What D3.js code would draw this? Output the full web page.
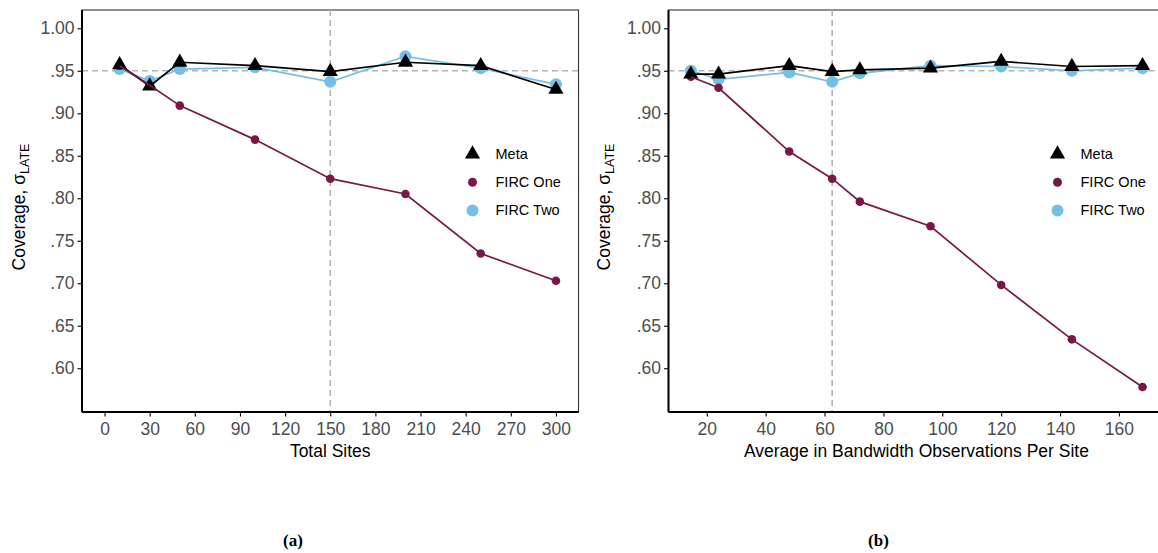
<!DOCTYPE html>
<html>
<head>
<meta charset="utf-8">
<script src="https://cdn.jsdelivr.net/npm/d3@7"></script>
<style>
  body { margin: 0; background: #fff; }
  svg { display: block; font-family: "Liberation Sans", Arial, sans-serif; }
</style>
</head>
<body>
<div id="chart"></div>
<script>
// panel (a): total sites
const sitesX = [10, 30, 50, 100, 150, 200, 250, 300];
const sitesMeta = [0.957, 0.932, 0.960, 0.956, 0.949, 0.960, 0.956, 0.928];
const sitesFircOne = [0.956, 0.933, 0.909, 0.869, 0.823, 0.805, 0.735, 0.703];
const sitesFircTwo = [0.952, 0.938, 0.952, 0.954, 0.937, 0.967, 0.953, 0.934];
const sitesTicks = [0, 30, 60, 90, 120, 150, 180, 210, 240, 270, 300];

// panel (b): avg in-bandwidth observations per site
const obsX = [14.6, 24, 48, 62.6, 72, 96, 120, 144, 168];
const obsMeta = [0.946, 0.946, 0.956, 0.949, 0.951, 0.953, 0.961, 0.955, 0.956];
const obsFircOne = [0.943, 0.930, 0.855, 0.823, 0.796, 0.767, 0.698, 0.634, 0.578];
const obsFircTwo = [0.950, 0.940, 0.948, 0.937, 0.947, 0.956, 0.955, 0.950, 0.953];
const obsTicks = [20, 40, 60, 80, 100, 120, 140, 160];

const yTicks = [0.60, 0.65, 0.70, 0.75, 0.80, 0.85, 0.90, 0.95, 1.00];
const seriesNames = ["Meta", "FIRC One", "FIRC Two"];

const colors = {"Meta": "#000000", "FIRC One": "#781846", "FIRC Two": "#74bfe8"};

const W = 1158, H = 553;
const svg = d3.select("#chart").append("svg")
  .attr("width", W).attr("height", H);

const plotTop = 10, plotBottom = 412;
const y = d3.scaleLinear().domain([0.5485, 1.0215]).range([plotBottom, plotTop]);

const panels = [
  {xVals: sitesX, meta: sitesMeta, one: sitesFircOne, two: sitesFircTwo,
   ticks: sitesTicks, domain: [-15, 315], range: [82, 578.5], vline: 150,
   xTitle: "Total Sites", label: "(a)", labelX: 293, yTitleX: 25,
   legendX: 472.5},
  {xVals: obsX, meta: obsMeta, one: obsFircOne, two: obsFircTwo,
   ticks: obsTicks, domain: [7.0, 175.4], range: [668.5, 1164.3], vline: 62.6,
   xTitle: "Average in Bandwidth Observations Per Site", label: "(b)", labelX: 878.5, yTitleX: 610,
   legendX: 1057.5}
];

const fmtY = d => d3.format(".2f")(d).replace(/^0/, "");

panels.forEach(p => {
  const x = d3.scaleLinear().domain(p.domain).range(p.range);
  const g = svg.append("g");

  // panel border (top/right)
  g.append("rect")
    .attr("x", p.range[0]).attr("y", plotTop)
    .attr("width", p.range[1] - p.range[0]).attr("height", plotBottom - plotTop)
    .attr("fill", "none").attr("stroke", "#333").attr("stroke-width", 1.1);

  // reference lines
  g.append("line")
    .attr("x1", p.range[0]).attr("x2", p.range[1])
    .attr("y1", y(0.95)).attr("y2", y(0.95))
    .attr("stroke", "#b3b3b3").attr("stroke-width", 1.6).attr("stroke-dasharray", "6,4");
  g.append("line")
    .attr("x1", x(p.vline)).attr("x2", x(p.vline))
    .attr("y1", plotTop).attr("y2", plotBottom)
    .attr("stroke", "#b3b3b3").attr("stroke-width", 1.6).attr("stroke-dasharray", "6,4");

  // axes
  const xAxis = g.append("g")
    .attr("transform", "translate(0," + plotBottom + ")")
    .call(d3.axisBottom(x).tickValues(p.ticks).tickSize(4.5).tickPadding(6).tickFormat(d3.format("d")));
  const yAxis = g.append("g")
    .attr("transform", "translate(" + p.range[0] + ",0)")
    .call(d3.axisLeft(y).tickValues(yTicks).tickSize(4.5).tickPadding(3).tickFormat(fmtY));
  [xAxis, yAxis].forEach(a => {
    a.select(".domain").attr("stroke", "#000").attr("stroke-width", 2);
    a.selectAll(".tick line").attr("stroke", "#000").attr("stroke-width", 1.1);
    a.selectAll(".tick text")
      .attr("fill", "#4d4d4d")
      .style("font-size", "17.5px")
      .style("font-family", "'Liberation Sans', Arial, sans-serif");
  });
  xAxis.select(".domain").attr("d", "M" + p.range[0] + ",0H" + p.range[1]);
  yAxis.select(".domain").attr("d", "M0," + plotTop + "V" + plotBottom);

  // series
  const rows = p.xVals.map((xv, i) => ({x: xv, meta: p.meta[i], one: p.one[i], two: p.two[i]}));
  const line = key => d3.line().x(d => x(d.x)).y(d => y(d[key]));

  g.append("path").datum(rows)
    .attr("d", line("two")).attr("fill", "none")
    .attr("stroke", colors["FIRC Two"]).attr("stroke-width", 1.7);
  g.selectAll(".two").data(rows).enter().append("circle")
    .attr("cx", d => x(d.x)).attr("cy", d => y(d.two)).attr("r", 6)
    .attr("fill", colors["FIRC Two"]);

  g.selectAll(".one").data(rows).enter().append("circle")
    .attr("cx", d => x(d.x)).attr("cy", d => y(d.one)).attr("r", 4.3)
    .attr("fill", colors["FIRC One"]);

  g.append("path").datum(rows)
    .attr("d", line("meta")).attr("fill", "none")
    .attr("stroke", colors["Meta"]).attr("stroke-width", 1.7);
  g.selectAll(".meta").data(rows).enter().append("path")
    .attr("d", d3.symbol(d3.symbolTriangle, 100))
    .attr("transform", d => "translate(" + x(d.x) + "," + y(d.meta) + ")")
    .attr("fill", colors["Meta"]);

  g.append("path").datum(rows)
    .attr("d", line("one")).attr("fill", "none")
    .attr("stroke", colors["FIRC One"]).attr("stroke-width", 1.7);

  // legend
  const leg = g.append("g");
  seriesNames.forEach((name, i) => {
    const ly = 154 + i * 28.2;
    if (name === "Meta") {
      leg.append("path")
        .attr("d", d3.symbol(d3.symbolTriangle, 100))
        .attr("transform", "translate(" + p.legendX + "," + ly + ")")
        .attr("fill", colors[name]);
    } else {
      leg.append("circle")
        .attr("cx", p.legendX).attr("cy", ly)
        .attr("r", name === "FIRC One" ? 4.5 : 6)
        .attr("fill", colors[name]);
    }
    leg.append("text")
      .attr("x", p.legendX + 23).attr("y", ly + 5)
      .style("font-size", "14.5px")
      .attr("fill", "#000")
      .text(name);
  });

  // axis titles
  g.append("text")
    .attr("x", (p.range[0] + p.range[1]) / 2).attr("y", 457)
    .attr("text-anchor", "middle")
    .style("font-size", "17.5px")
    .text(p.xTitle);

  const yt = g.append("text")
    .attr("transform", "translate(" + p.yTitleX + ",207) rotate(-90)")
    .attr("text-anchor", "middle")
    .style("font-size", "17.5px");
  yt.append("tspan").text("Coverage, σ");
  yt.append("tspan").attr("dy", 4).style("font-size", "12.5px").text("LATE");

  // panel label
  svg.append("text")
    .attr("x", p.labelX).attr("y", 546)
    .attr("text-anchor", "middle")
    .style("font-family", "'Liberation Serif', 'DejaVu Serif', serif")
    .style("font-weight", "bold")
    .style("font-size", "17px")
    .text(p.label);
});
</script>
</body>
</html>
